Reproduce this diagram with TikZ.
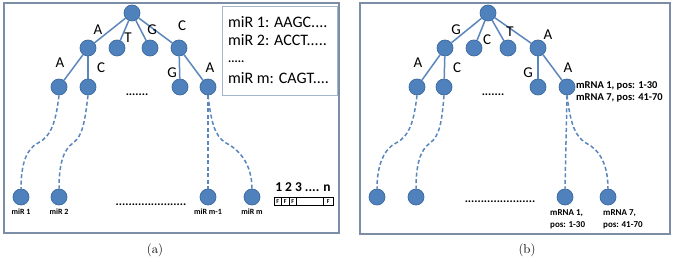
\documentclass[tikz,border=0pt]{standalone}
\usepackage{fontspec}
\newfontfamily\calfont{Carlito}
\definecolor{nodeblue}{HTML}{4F81BD}
\definecolor{nodeborder}{HTML}{3D6A9E}
\definecolor{edgeblue}{HTML}{5B86BC}
\definecolor{framecol}{HTML}{7B8EA6}
\definecolor{boxcol}{HTML}{A3B6CB}
\begin{document}
\begin{tikzpicture}[x=1pt,y=-1pt,
  nd/.style={circle,fill=nodeblue,draw=nodeborder,line width=0.7pt,minimum size=16pt,inner sep=0pt},
  tedge/.style={draw=edgeblue,line width=1.5pt},
  dline/.style={draw=edgeblue,line width=1.5pt,dash pattern=on 4pt off 2.5pt},
  lbl/.style={font=\calfont\fontsize{15}{15}\selectfont,inner sep=0pt},
  boxtxt/.style={font=\calfont\fontsize{16}{16}\selectfont,inner sep=0pt},
  sml/.style={font=\calfont\bfseries\fontsize{8}{9.5}\selectfont,inner sep=0pt},
  smlb/.style={font=\calfont\bfseries\fontsize{9}{12}\selectfont,inner sep=0pt},
  posl/.style={font=\calfont\bfseries\fontsize{10.5}{11.5}\selectfont,inner sep=0pt},
  dots/.style={font=\calfont\bfseries\fontsize{12}{12}\selectfont,inner sep=0pt},
  frm/.style={draw=framecol,line width=1.6pt},
  fcell/.style={draw=black,line width=0.6pt,minimum height=7.5pt,inner sep=0pt,font=\calfont\bfseries\fontsize{6}{6}\selectfont},
  captxt/.style={font=\fontsize{13}{13}\selectfont,inner sep=0pt}]
\useasboundingbox (0,0) rectangle (685,267);
% ---------------- panel (a) ----------------
\node[frm,minimum width=335pt,minimum height=230pt,inner sep=0pt] (fa) at (171.5,118) {};
\node[draw=boxcol,line width=1pt,minimum width=115pt,minimum height=89pt,inner sep=0pt] (tb) at (279.5,51.5) {};
\node[boxtxt,anchor=base west] (t1) at (228,27.5) {miR 1: AAGC....};
\node[boxtxt,anchor=base west] (t2) at (228,45.5) {miR 2: ACCT.....};
\node[dots,anchor=base west] (t3) at (228,62.5) {.....};
\node[boxtxt,anchor=base west] (t4) at (228,83.5) {miR m: CAGT....};

\node[nd] (r) at (132,13) {};
\node[nd] (a1) at (88,48) {};
\node[nd] (a2) at (117,48) {};
\node[nd] (a3) at (150,48) {};
\node[nd] (a4) at (179,48) {};
\node[nd] (b1) at (59,87) {};
\node[nd] (b2) at (88,87) {};
\node[nd] (b3) at (180,87) {};
\node[nd] (b4) at (208,87) {};
\foreach \n in {a1,a2,a3,a4} \draw[tedge] (r) -- (\n);
\draw[tedge] (a1) -- (b1);
\draw[tedge] (a1) -- (b2);
\draw[tedge] (a4) -- (b3);
\draw[tedge] (a4) -- (b4);
\node[lbl] (la1) at (98,30) {A};
\node[lbl] (la2) at (128,38) {T};
\node[lbl] (la3) at (152,30) {G};
\node[lbl] (la4) at (182,26) {C};
\node[lbl] (lb1) at (60,63) {A};
\node[lbl] (lb2) at (101,68) {C};
\node[lbl] (lb3) at (172,73) {G};
\node[lbl] (lb4) at (210,68) {A};
\node[dots] (dm) at (137,95) {.......};

\node[nd] (c1) at (21,197) {};
\node[nd] (c2) at (59,197) {};
\node[nd] (c3) at (208,197) {};
\node[nd] (c4) at (252,197) {};
\draw[dline] (b1.south) .. controls (56,120) and (52,136) .. (38,143) .. controls (26,149) and (21,165) .. (c1.north);
\draw[dline] (b2.south) .. controls (85,120) and (83,136) .. (73,143) .. controls (63,150) and (59,165) .. (c2.north);
\draw[dline] (b4.south) -- (c3.north);
\draw[dline] (b4.south) .. controls (211,120) and (214,136) .. (226,143) .. controls (240,150) and (252,165) .. (c4.north);
\node[sml] (m1) at (21,212) {miR 1};
\node[sml] (m2) at (59,212) {miR 2};
\node[sml] (m3) at (208,212) {miR m-1};
\node[sml] (m4) at (252,212) {miR m};
\node[dots] (db) at (151,205) {......................};

\node[font=\calfont\bfseries\fontsize{13.5}{13.5}\selectfont,inner sep=0pt] (nums) at (303,187) {1 2 3 .... n};
\node[fcell,minimum width=7.5pt] (f1) at (277.75,201.5) {F};
\node[fcell,minimum width=7.5pt] (f2) at (285.25,201.5) {F};
\node[fcell,minimum width=7.5pt] (f3) at (292.75,201.5) {F};
\node[fcell,minimum width=27pt] (f4) at (310,201.5) {};
\node[fcell,minimum width=9.5pt] (f5) at (328.25,201.5) {F};
\node[captxt] (capa) at (155,250) {(a)};

% ---------------- panel (b) ----------------
\node[frm,minimum width=310pt,minimum height=231pt,inner sep=0pt] (fb) at (515,118.5) {};
\node[nd] (R) at (488,13) {};
\node[nd] (A1) at (445,48) {};
\node[nd] (A2) at (474,48) {};
\node[nd] (A3) at (508,48) {};
\node[nd] (A4) at (538,48) {};
\node[nd] (B1) at (417,87) {};
\node[nd] (B2) at (444,87) {};
\node[nd] (B3) at (538,87) {};
\node[nd] (B4) at (567,87) {};
\foreach \n in {A1,A2,A3,A4} \draw[tedge] (R) -- (\n);
\draw[tedge] (A1) -- (B1);
\draw[tedge] (A1) -- (B2);
\draw[tedge] (A4) -- (B3);
\draw[tedge] (A4) -- (B4);
\node[lbl] (LA1) at (456,30) {G};
\node[lbl] (LA2) at (487,40) {C};
\node[lbl] (LA3) at (510,32) {T};
\node[lbl] (LA4) at (548,35) {A};
\node[lbl] (LB1) at (418,63) {A};
\node[lbl] (LB2) at (457,68) {C};
\node[lbl] (LB3) at (528,73) {G};
\node[lbl] (LB4) at (568,68) {A};
\node[dots] (DM) at (493,95) {.......};
\node[posl,anchor=west,align=left] (pos) at (576,92) {mRNA 1, pos: 1-30\\mRNA 7, pos: 41-70};

\node[nd] (C1) at (377,197) {};
\node[nd] (C2) at (416,197) {};
\node[nd] (C3) at (565,197) {};
\node[nd] (C4) at (608,197) {};
\draw[dline] (B1.south) .. controls (414,120) and (410,136) .. (396,143) .. controls (384,149) and (377,165) .. (C1.north);
\draw[dline] (B2.south) .. controls (442,120) and (440,136) .. (430,143) .. controls (420,150) and (416,165) .. (C2.north);
\draw[dline] (B4.south) -- (C3.north);
\draw[dline] (B4.south) .. controls (570,120) and (574,136) .. (586,143) .. controls (600,150) and (608,165) .. (C4.north);
\node[dots] (DB) at (500,202) {......................};
\node[smlb,anchor=north west,align=left] (p1) at (550,209) {mRNA 1,\\pos: 1-30};
\node[smlb,anchor=north west,align=left] (p2) at (603,209) {mRNA 7,\\pos: 41-70};
\node[captxt] (capb) at (527,250) {(b)};
\end{tikzpicture}
\end{document}
